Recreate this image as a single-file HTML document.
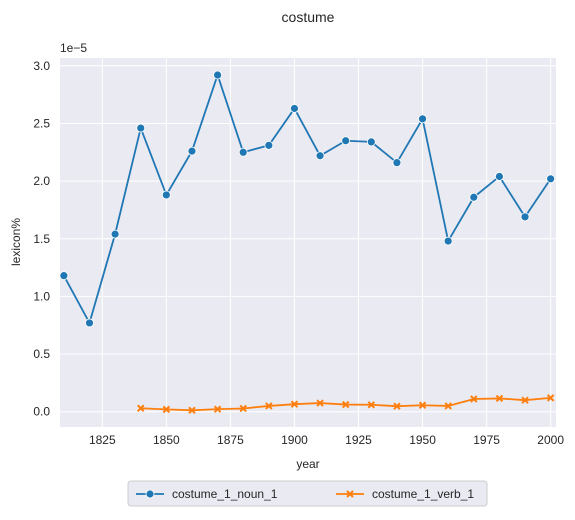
<!DOCTYPE html>
<html><head><meta charset="utf-8"><style>
body{margin:0;background:#fff;font-family:"Liberation Sans",Arial,sans-serif}
</style></head><body>
<svg width="575" height="515" xmlns="http://www.w3.org/2000/svg" font-family="Liberation Sans, Arial, sans-serif">
<text x="308" y="22" text-anchor="middle" font-size="14" fill="#262626">costume</text>
<rect x="60" y="58" width="496" height="369" fill="#eaeaf2"/>
<g id="grid"></g><g id="series"></g><g id="axes"></g>
<text x="60" y="52" font-size="12" fill="#262626">1e−5</text>
<text x="308" y="468" text-anchor="middle" font-size="12" fill="#262626">year</text>
<text x="20" y="242" text-anchor="middle" font-size="12" fill="#262626" transform="rotate(-90 20 242)">lexicon%</text>
<g>
<rect x="128" y="481" width="359" height="25" rx="3" fill="#eaeaf2" stroke="#cccccc"/>
<line x1="136" y1="494" x2="164" y2="494" stroke="#1f77b4" stroke-width="1.8"/>
<circle cx="150" cy="494" r="4" fill="#1f77b4" stroke="#fff" stroke-width="0.8"/>
<text x="172" y="498" font-size="12" fill="#262626">costume_1_noun_1</text>
<line x1="336" y1="494" x2="364" y2="494" stroke="#ff7f0e" stroke-width="1.8"/>
<path d="M347,491L353,497M347,497L353,491" stroke="#ff7f0e" stroke-width="2"/>
<text x="372" y="498" font-size="12" fill="#262626">costume_1_verb_1</text>
</g>
</svg>
<script>
const years=[1810,1820,1830,1840,1850,1860,1870,1880,1890,1900,1910,1920,1930,1940,1950,1960,1970,1980,1990,2000];
const nounValues=[1.18,0.77,1.54,2.46,1.88,2.26,2.92,2.25,2.31,2.63,2.22,2.35,2.34,2.16,2.54,1.48,1.86,2.04,1.69,2.02];
const verbYears=[1840,1850,1860,1870,1880,1890,1900,1910,1920,1930,1940,1950,1960,1970,1980,1990,2000];
const verbValues=[0.03,0.02,0.012,0.022,0.028,0.05,0.065,0.075,0.062,0.06,0.048,0.056,0.05,0.11,0.115,0.1,0.12];
const xTicks=[1825,1850,1875,1900,1925,1950,1975,2000];
const yTicks=[0,0.5,1,1.5,2,2.5,3];
const yTickLabels=["0.0","0.5","1.0","1.5","2.0","2.5","3.0"];
const X=v=>102.3+(v-1825)*2.562, Y=v=>411.7-v*115.3;
const NS="http://www.w3.org/2000/svg";
function mk(t,a,p){const e=document.createElementNS(NS,t);for(const k in a)e.setAttribute(k,a[k]);p.appendChild(e);return e;}
const g=document.getElementById('grid'),s=document.getElementById('series'),ax=document.getElementById('axes');
xTicks.forEach(t=>{const l=mk('line',{x1:X(t),x2:X(t),y1:58,y2:427,stroke:'#fff','stroke-width':1},g);

const tx=mk('text',{x:X(t),y:444,'text-anchor':'middle','font-size':12,fill:'#262626'},ax);tx.textContent=t;
});
yTicks.forEach((t,i)=>{const l=mk('line',{x1:60,x2:556,y1:Y(t),y2:Y(t),stroke:'#fff','stroke-width':1},g);

const tx=mk('text',{x:50,y:Y(t)+4,'text-anchor':'end','font-size':12,fill:'#262626'},ax);tx.textContent=yTickLabels[i];
});
const p1=mk('polyline',{points:years.map((y,i)=>X(y)+','+Y(nounValues[i])).join(' '),fill:'none',stroke:'#1f77b4','stroke-width':1.8},s);

years.forEach((y,i)=>{const c=mk('circle',{cx:X(y),cy:Y(nounValues[i]),r:4,fill:'#1f77b4',stroke:'#fff','stroke-width':0.8},s);
});
const p2=mk('polyline',{points:verbYears.map((y,i)=>X(y)+','+Y(verbValues[i])).join(' '),fill:'none',stroke:'#ff7f0e','stroke-width':1.8},s);

verbYears.forEach((y,i)=>{const cx=X(y),cy=Y(verbValues[i]);
const m=mk('path',{d:`M${cx-3},${cy-3}L${cx+3},${cy+3}M${cx-3},${cy+3}L${cx+3},${cy-3}`,stroke:'#ff7f0e','stroke-width':2},s);
});
</script>
</body></html>
